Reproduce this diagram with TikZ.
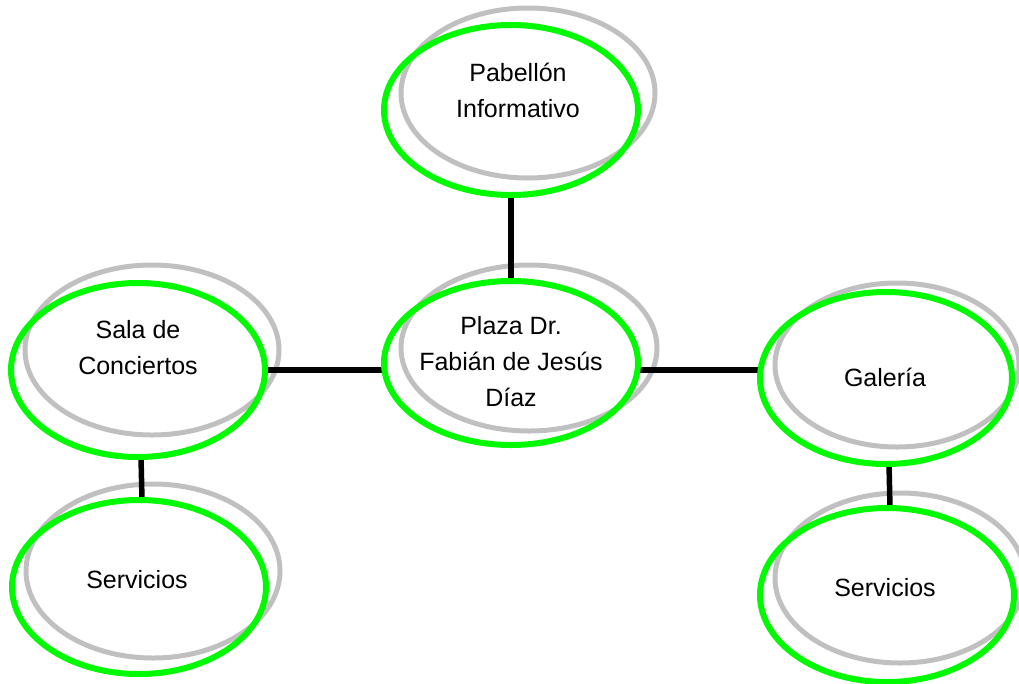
\documentclass[tikz,border=0pt]{standalone}
\usepackage{fontspec}
\setmainfont{Liberation Sans}
\usetikzlibrary{shapes.geometric}
\definecolor{ringgreen}{RGB}{0,250,0}
\definecolor{ringgray}{RGB}{192,192,192}
\pgfdeclarelayer{shadowlayer}
\pgfdeclarelayer{linklayer}
\pgfsetlayers{shadowlayer,linklayer,main}
\begin{document}
\begin{tikzpicture}[x=1pt,y=-1pt,
  ring/.style={ellipse,draw=ringgreen,line width=6pt,inner sep=0pt,outer sep=0pt,
    minimum width=254pt,minimum height=174pt},
  shadowring/.style={draw=ringgray,line width=5pt},
  link/.style={draw=black,line width=5.5pt},
  label/.style={font=\fontsize{25}{36}\selectfont,align=center,inner sep=0pt}]
\useasboundingbox (0,0) rectangle (1019,683);

% grey outlines, offset up and to the right
\begin{pgfonlayer}{shadowlayer}
\draw[shadowring] (528,93)  ellipse [x radius=127, y radius=85];
\draw[shadowring] (529,348) ellipse [x radius=128, y radius=83];
\draw[shadowring] (152,350) ellipse [x radius=127, y radius=85];
\draw[shadowring] (897,365) ellipse [x radius=122, y radius=82];
\draw[shadowring] (153,571) ellipse [x radius=127, y radius=87];
\draw[shadowring] (900,578) ellipse [x radius=125, y radius=85];
\end{pgfonlayer}

% green rings
\node[ring,minimum height=170pt] (pab)   at (511,110) {};
\node[ring,minimum height=164pt] (plaza) at (511,363) {};
\node[ring] (sala)  at (138,370) {};
\node[ring,minimum width=252pt,minimum height=172pt] (gal) at (886,378) {};
\node[ring] (serv1) at (139,587) {};
\node[ring] (serv2) at (887,595) {};

% links, under the green rings
\begin{pgfonlayer}{linklayer}
\draw[link] (pab.south) -- (pab.south |- plaza.north);
\draw[link] (sala.east) -- (sala.east -| plaza.west);
\draw[link] (plaza.east |- sala.east) -- (gal.west |- sala.east);
\draw[link] ([xshift=3pt]sala.south) -- ([xshift=3pt]serv1.north);
\draw[link] ([xshift=3pt]gal.south) -- ([xshift=3pt]serv2.north);
\end{pgfonlayer}

% labels
\node[label] (tpab)   at (518,90)  {Pabellón\\Informativo};
\node[label] (tplaza) at (511,362) {Plaza Dr.\\Fabián de Jesús\\Díaz};
\node[label] (tsala)  at (138,348) {Sala de\\Conciertos};
\node[label] (tgal)   at (885,377) {Galería};
\node[label] (tserv1) at (137,580) {Servicios};
\node[label] (tserv2) at (885,588) {Servicios};
\end{tikzpicture}
\end{document}
